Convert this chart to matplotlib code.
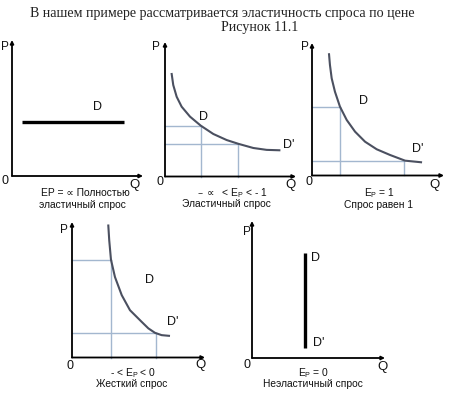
import matplotlib
matplotlib.use("Agg")
import matplotlib.pyplot as plt

W, H = 450, 397

# ---------------- data (in units 0..10 per panel) ----------------
perfect_el_q = [0.74, 8.55]
perfect_el_p = [3.95, 3.95]

elastic_q = [0.51, 0.63, 0.89, 1.27, 1.91, 2.73, 3.69, 4.71, 5.60, 6.74, 7.76, 8.73]
elastic_p = [7.62, 6.80, 5.93, 5.19, 4.45, 3.78, 3.16, 2.71, 2.43, 2.12, 1.98, 1.95]
elastic_guide_q = [2.73, 5.60]
elastic_guide_p = [3.78, 2.43]

unit_q = [1.29, 1.36, 1.49, 1.74, 2.12, 2.63, 3.26, 4.02, 4.90, 5.91, 7.05, 8.26]
unit_p = [9.15, 8.34, 7.34, 6.32, 5.19, 4.19, 3.31, 2.55, 1.98, 1.55, 1.12, 1.00]
unit_guide_q = [2.12, 6.99]
unit_guide_p = [5.19, 1.12]

inelastic_q = [2.73, 2.80, 2.93, 3.23, 3.74, 4.36, 5.24, 5.74, 6.24, 6.74, 7.29]
inelastic_p = [9.74, 8.64, 7.22, 5.94, 4.60, 3.49, 2.63, 2.15, 1.82, 1.65, 1.60]
inelastic_guide_q = [2.93, 6.29]
inelastic_guide_p = [7.22, 1.78]

perfect_in_q = [3.98, 3.98]
perfect_in_p = [0.73, 7.66]

title_lines = ["В нашем примере рассматривается эластичность спроса по цене", "Рисунок 11.1"]
captions = [
    ["EP = ∝ Полностью", "эластичный спрос"],
    ["– $\\propto$  < E$_\\mathregular{P}$ < - 1", "Эластичный спрос"],
    ["E$_\\mathregular{P}$ = 1", "Спрос равен 1"],
    ["- < E$_\\mathregular{P}$ < 0", "Жесткий спрос"],
    ["E$_\\mathregular{P}$ = 0", "Неэластичный спрос"],
]

# ---------------- layout (pixels) ----------------
# origin x, origin y, x-axis tip, y-axis tip
panels = [
    (12, 176, 143, 40),
    (165, 176.5, 296, 42),
    (312, 175.5, 444, 43),
    (72, 357.5, 205, 222),
    (252, 358, 385, 221),
]

CURVE = "#4b5060"
GUIDE = "#a3b7cf"
SANS = ["Liberation Sans", "DejaVu Sans"]
TXT = "#111111"

fig = plt.figure(figsize=(W / 100, H / 100), dpi=100)
fig.patch.set_facecolor("white")


def fpos(x, y):
    return x / W, 1 - y / H


def ftext(x, y, s, size=9, **kw):
    fx, fy = fpos(x, y)
    fig.text(fx, fy, s, fontsize=size, family=SANS, ha="center", va="center",
             color=TXT, **kw)


axes = []
for (ox, oy, xt, yt) in panels:
    ax = fig.add_axes([ox / W, 1 - oy / H, (xt - ox) / W, (oy - yt) / H])
    ax.set_xlim(0, 10)
    ax.set_ylim(0, 10)
    ax.axis("off")
    for tip in [(10, 0), (0, 10)]:
        ax.annotate("", xy=tip, xytext=(0, 0), xycoords="data",
                    arrowprops=dict(arrowstyle="-|>", lw=1.3, color="black",
                                    mutation_scale=5, shrinkA=0, shrinkB=0),
                    annotation_clip=False)
    axes.append(ax)


def guides(ax, gq, gp):
    for q, p in zip(gq, gp):
        ax.plot([0, q], [p, p], color=GUIDE, lw=1.0, clip_on=False, zorder=1)
        ax.plot([q, q], [0, p], color=GUIDE, lw=1.0, clip_on=False, zorder=1)


# panel 1
axes[0].plot(perfect_el_q, perfect_el_p, color="black", lw=2.4, solid_capstyle="butt")
# panel 2
guides(axes[1], elastic_guide_q, elastic_guide_p)
axes[1].plot(elastic_q, elastic_p, color=CURVE, lw=1.5, zorder=2)
# panel 3
guides(axes[2], unit_guide_q, unit_guide_p)
axes[2].plot(unit_q, unit_p, color=CURVE, lw=1.5, zorder=2)
# panel 4
guides(axes[3], inelastic_guide_q, inelastic_guide_p)
axes[3].plot(inelastic_q, inelastic_p, color=CURVE, lw=1.5, zorder=2)
# panel 5
axes[4].plot(perfect_in_q, perfect_in_p, color="black", lw=2.4, solid_capstyle="butt")

# axis letters
letters = [
    ((5, 47), (5, 181), (135, 185)),
    ((156, 47), (160, 182), (290, 185)),
    ((305, 47), (309, 182), (435, 185)),
    ((64, 230), (70, 366), (200, 365)),
    ((247, 232), (247, 365), (382, 367)),
]
for (P, O, Q) in letters:
    ftext(*P, "P", size=8.5)
    ftext(*O, "0", size=9)
    ftext(*Q, "Q", size=9.5)

# D labels
d_labels = [
    [(98, 107, "D")],
    [(204, 117, "D"), (289, 145, "D'")],
    [(363, 101, "D"), (418, 149, "D'")],
    [(149, 280, "D"), (173, 322, "D'")],
    [(316, 258, "D"), (319, 343, "D'")],
]
for lst in d_labels:
    for x, y, s in lst:
        ftext(x, y, s, size=9)

# captions
cap_pos = [
    ((85, 193), (82, 205)),
    ((232, 193), (226, 204)),
    ((379, 193), (379, 205)),
    ((133, 373), (132, 384)),
    ((314, 373), (313, 384)),
]
for (l1, l2), (a, b) in zip(captions, cap_pos):
    ftext(*a, l1, size=7.4)
    ftext(*b, l2, size=7.4)

# title
serif = ["Liberation Serif", "DejaVu Serif"]
fx, fy = fpos(222, 13)
fig.text(fx, fy, title_lines[0], fontsize=10.1, family=serif,
         ha="center", va="center", color="#222222")
fx, fy = fpos(260, 27)
fig.text(fx, fy, title_lines[1], fontsize=10.1, family=serif,
         ha="center", va="center", color="#222222")

fig.savefig("out.png", dpi=100, facecolor="white")
